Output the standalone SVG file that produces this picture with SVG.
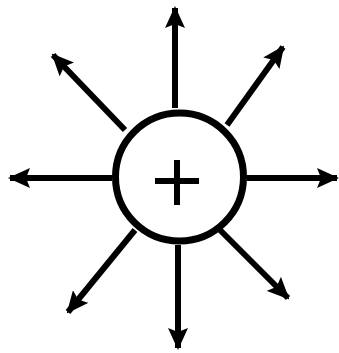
<svg xmlns="http://www.w3.org/2000/svg" width="339" height="353" viewBox="0 0 339 353">
<style>
.c{stroke:#000;stroke-width:6;fill:none;marker-end:url(#ah)}
</style>
<defs>
<marker id="ah" markerUnits="userSpaceOnUse" markerWidth="22" markerHeight="20" refX="20" refY="10" orient="auto">
<path d="M0,0 L22,10 L0,20 L4,10 Z" fill="#000"/>
</marker>
</defs>
<rect width="339" height="353" fill="#fff"/>
<g id="connectors">
<line class="c" x1="175" y1="108" x2="175" y2="8"/>
<line class="c" x1="178" y1="245" x2="178" y2="348"/>
<line class="c" x1="112" y1="178" x2="10" y2="178"/>
<line class="c" x1="247" y1="178" x2="337" y2="178"/>
<line class="c" x1="125" y1="130" x2="53" y2="55"/>
<line class="c" x1="227" y1="125" x2="283" y2="47"/>
<line class="c" x1="135" y1="230" x2="68" y2="312"/>
<line class="c" x1="220" y1="230" x2="288" y2="298"/>
</g>
<g id="charge">
<circle cx="179.5" cy="177" r="64" fill="#fff" stroke="#000" stroke-width="7"/>
<path d="M155,181 H199 M177,160 V205" stroke="#000" stroke-width="6" fill="none"/>
</g>
</svg>
